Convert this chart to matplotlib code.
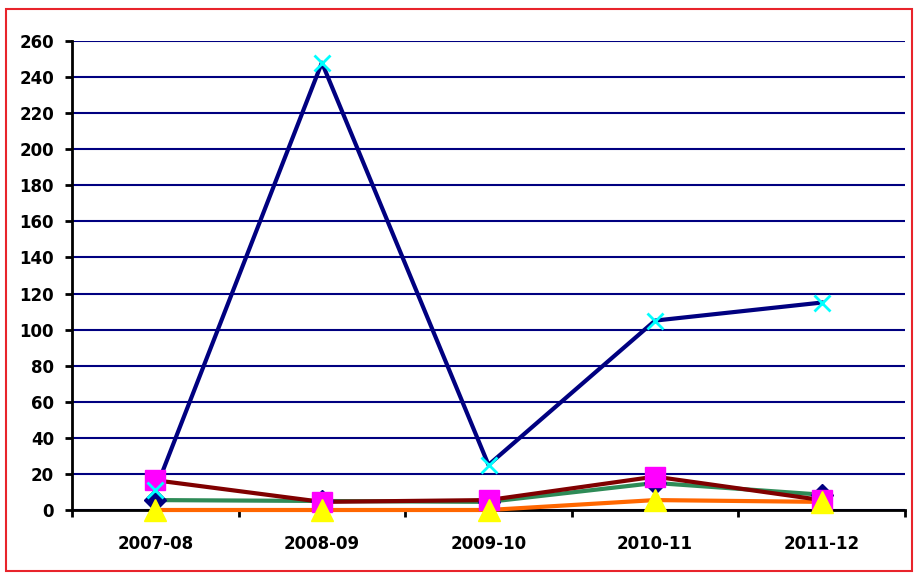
import matplotlib.pyplot as plt
from matplotlib.patches import Rectangle

years = ['2007-08', '2008-09', '2009-10', '2010-11', '2011-12']
# series
cross_vals = [11, 248, 25, 105, 115]
square_vals = [16.5, 4.5, 5.5, 18.5, 5.5]
diamond_vals = [5.5, 5, 4.5, 15, 8.5]
triangle_vals = [0, 0, 0, 5.5, 4.5]
yticks = list(range(0, 261, 20))

plt.rcParams['font.family'] = ['DejaVu Sans']
fig = plt.figure(figsize=(9.14, 5.73), dpi=100)
ax = fig.add_axes([72/914, 1 - 510/573, (905-72)/914, (510-41)/573])

x = list(range(len(years)))

# draw order: lines then markers
ax.plot(x, diamond_vals, color='#2e8b57', lw=3, zorder=3, clip_on=False)
ax.plot(x, triangle_vals, color='#ff6600', lw=3, zorder=3, clip_on=False)
ax.plot(x, square_vals, color='#800000', lw=3, zorder=4, clip_on=False)
ax.plot(x, cross_vals, color='#000080', lw=3, zorder=5, clip_on=False)

ax.plot(x, diamond_vals, ls='none', marker='D', ms=11, color='#000080', zorder=6, clip_on=False)
ax.plot(x, square_vals, ls='none', marker='s', ms=15, color='#ff00ff', zorder=7, clip_on=False)
ax.plot(x, triangle_vals, ls='none', marker='^', ms=16, color='#ffff00', zorder=8, clip_on=False)
ax.plot(x, cross_vals, ls='none', marker='x', ms=11, mew=2, color='#00ffff', zorder=9, clip_on=False)

ax.set_xlim(-0.5, 4.5)
ax.set_ylim(0, 260)
ax.set_yticks(yticks)
ax.set_xticks(x)
ax.set_xticklabels(years, fontweight='bold', fontsize=12)
ax.set_xticks([i + 0.5 for i in range(-1, 5)], minor=True)
ax.tick_params(axis='x', which='major', length=0, pad=18)
ax.tick_params(axis='x', which='minor', length=5, width=2, direction='out')
ax.tick_params(axis='y', length=5, width=2, direction='out', labelsize=12, pad=8)
for lab in ax.get_yticklabels():
    lab.set_fontweight('bold')

ax.grid(axis='y', color='#000080', lw=1.5, zorder=1)
ax.set_axisbelow(True)
for side in ['top', 'right']:
    ax.spines[side].set_visible(False)
ax.spines['left'].set_linewidth(2)
ax.spines['bottom'].set_linewidth(2)
ax.spines['bottom'].set_zorder(2)

# red frame round the whole chart
fig.patches.append(Rectangle((6/914, 1 - 571/573), 906/914, 562/573,
                             transform=fig.transFigure, fill=False,
                             edgecolor='#e8242b', lw=1.5))

fig.savefig('out.png', dpi=100)
